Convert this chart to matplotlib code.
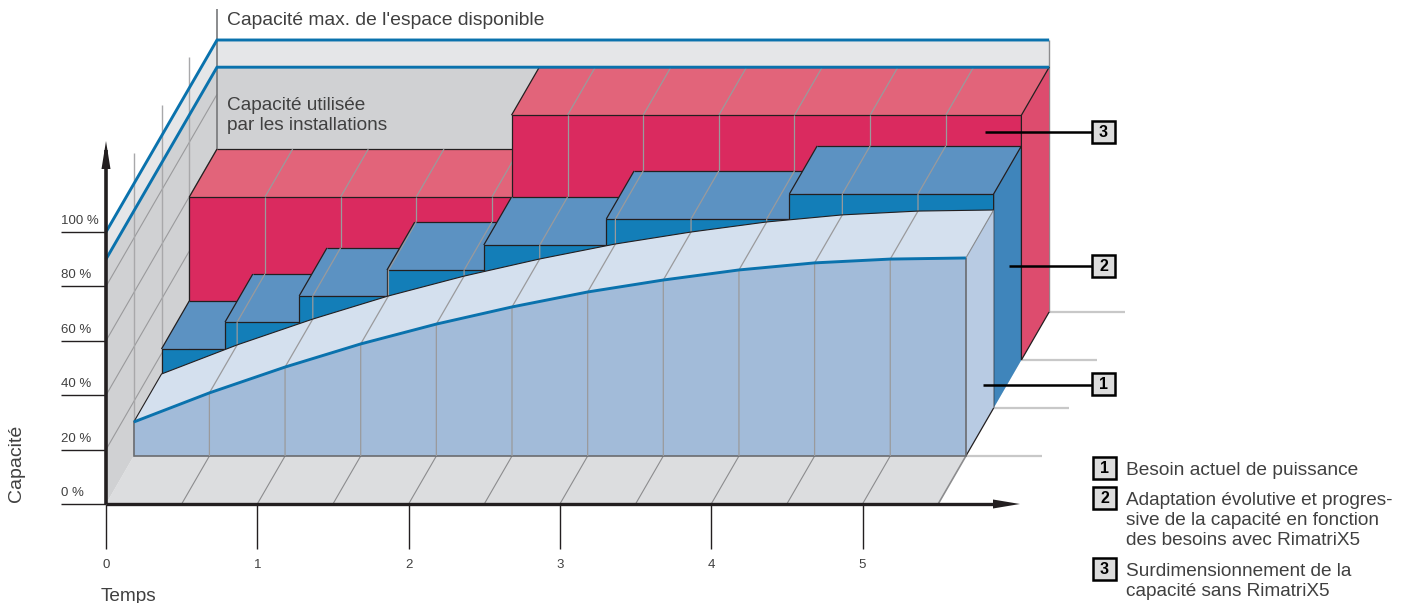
import matplotlib
matplotlib.use("Agg")
import matplotlib.pyplot as plt
import numpy as np

plt.rcParams['font.family'] = ['Liberation Sans', 'DejaVu Sans']

# time axis
time_ticks = [0, 1, 2, 3, 4, 5]
cap_ticks = [0, 20, 40, 60, 80, 100]
cap_labels = ['0 %', '20 %', '40 %', '60 %', '80 %', '100 %']
t_end = 5.5
cap_used = 90
cap_max = 100
cap_guides = 111.4

# besoin actuel (1)
need_t = [0, 0.5, 1, 1.5, 2, 2.5, 3, 3.5, 4, 4.5, 5, 5.5]
need_cap = [12.5, 23.2, 32.7, 41.2, 48.5, 54.8, 60.3, 64.7, 68.4, 71.0, 72.4, 72.8]

# capacite evolutive, steps (2)
step_t = [0, 0.42, 0.91, 1.49, 2.13, 2.94, 4.15, 5.5]
step_cap = [21.7, 31.6, 41.2, 50.7, 59.9, 69.5, 78.7]

# surdimensionnement, steps (3)
over_t = [0, 2.13, 5.5]
over_cap = [59.9, 90]

grid_t = [0.5, 1, 1.5, 2, 2.5, 3, 3.5, 4, 4.5, 5]

DARK = '#231f20'
GRID = '#9a9a9c'
BLUE = '#0a72ad'
TXT = '#404040'

# painter's order: every new mark goes on top of the previous ones
z = [1]


def next_z():
    z[0] += 1
    return z[0]


def proj(t, cap, d=0):
    # oblique view: d is the depth layer, 0 = front, 4 = back wall
    return 106 + 151.3 * t + 27.75 * d, 504 - 2.72 * cap - 48 * d


def poly(ax, pts, color):
    xy = np.array([proj(*p) for p in pts])
    ax.fill(xy[:, 0], xy[:, 1], facecolor=color, edgecolor='none', linewidth=0, zorder=next_z())


def line(ax, pts, color=GRID, lw=0.9):
    xy = np.array([proj(*p) for p in pts])
    ax.plot(xy[:, 0], xy[:, 1], color=color, lw=lw, solid_capstyle='butt',
            solid_joinstyle='miter', zorder=next_z())


def step_value(t, edges, vals):
    i = np.searchsorted(edges, t, side='right') - 1
    return vals[min(i, len(vals) - 1)]


fig = plt.figure(figsize=(14.07, 6.03), dpi=100)
ax = fig.add_axes([0, 0, 1, 1])
ax.set_xlim(0, 1407)
ax.set_ylim(603, 0)
ax.axis('off')

# walls and floor
poly(ax, [(0, 0, 0), (t_end, 0, 0), (t_end, 0, 4), (0, 0, 4)], '#dcdddf')
poly(ax, [(0, 0, 0), (0, 0, 4), (0, cap_used, 4), (0, cap_used, 0)], '#d0d1d3')
poly(ax, [(0, 0, 4), (t_end, 0, 4), (t_end, cap_used, 4), (0, cap_used, 4)], '#d0d1d3')
poly(ax, [(0, cap_used, 0), (0, cap_used, 4), (0, cap_max, 4), (0, cap_max, 0)], '#e5e6e8')
poly(ax, [(0, cap_used, 4), (t_end, cap_used, 4), (t_end, cap_max, 4), (0, cap_max, 4)], '#e5e6e8')

# lines on the left wall
for c in cap_ticks[1:5]:
    line(ax, [(0, c, 0), (0, c, 4)], GRID, 0.8)
for d in [1, 2, 3]:
    line(ax, [(0, 0, d), (0, cap_guides, d)], '#a8a8aa', 1.0)
line(ax, [(0, 0, 4), (0, cap_guides, 4)], '#77787a', 1.2)

# floor lines, extended past the right side
for t in grid_t:
    line(ax, [(t, 0, 0), (t, 0, 1)], '#8c8c8e', 0.8)
line(ax, [(t_end, 0, 0), (t_end, 0, 1)], '#8c8c8e', 1.2)
for d in [1, 2, 3, 4]:
    line(ax, [(t_end, 0, d), (t_end + 0.5, 0, d)], '#c8c8c8', 1.6)
line(ax, [(t_end, 0, 4), (t_end, cap_max, 4)], '#8c8c8e', 1.0)

# layer 3, red: each step is finished before the next one covers it
for i in range(len(over_cap)):
    t0, t1, c = over_t[i], over_t[i + 1], over_cap[i]
    poly(ax, [(t0, c, 3), (t0, c, 4), (t1, c, 4), (t1, c, 3)], '#e2647a')
    line(ax, [(t0, c, 4), (t1, c, 4)], DARK, 0.9)
    for t in grid_t:
        if t0 <= t < t1:
            line(ax, [(t, c, 3), (t, c, 4)], GRID, 0.9)
    poly(ax, [(t0, 0, 3), (t1, 0, 3), (t1, c, 3), (t0, c, 3)], '#da2a5f')
    line(ax, [(t0, 0, 3), (t0, c, 3), (t1, c, 3)], DARK, 0.9)
    line(ax, [(t0, c, 3), (t0, c, 4)], DARK, 0.9)
poly(ax, [(t_end, 0, 3), (t_end, 0, 4), (t_end, over_cap[1], 4), (t_end, over_cap[1], 3)], '#dd4c6e')
line(ax, [(t_end, 0, 3), (t_end, over_cap[1], 3), (t_end, over_cap[1], 4)], DARK, 0.9)
line(ax, [(t_end, 0, 3), (t_end, 0, 4)], DARK, 0.9)

# max / used capacity lines
for c in [cap_max, cap_used]:
    line(ax, [(0, c, 0), (0, c, 4), (t_end, c, 4)], BLUE, 2.1)

# verticals on the red front faces
for t in grid_t:
    s = step_value(t, step_t, step_cap)
    r = step_value(t, over_t, over_cap)
    line(ax, [(t, s, 3), (t, r, 3)], GRID, 0.9)

# layer 2, blue steps
for i in range(len(step_cap)):
    t0, t1, c = step_t[i], step_t[i + 1], step_cap[i]
    poly(ax, [(t0, c, 2), (t0, c, 3), (t1, c, 3), (t1, c, 2)], '#5c92c2')
    line(ax, [(t0, c, 3), (t1, c, 3)], DARK, 0.9)
    for t in grid_t:
        if t0 <= t < t1:
            line(ax, [(t, c, 2), (t, c, 3)], GRID, 0.9)
    poly(ax, [(t0, 0, 2), (t1, 0, 2), (t1, c, 2), (t0, c, 2)], '#137eb8')
    line(ax, [(t0, 0, 2), (t0, c, 2), (t1, c, 2)], DARK, 0.9)
    line(ax, [(t0, c, 2), (t0, c, 3)], DARK, 0.9)
poly(ax, [(t_end, 0, 2), (t_end, 0, 3), (t_end, step_cap[-1], 3), (t_end, step_cap[-1], 2)], '#3f85bb')
line(ax, [(t_end, 0, 2), (t_end, step_cap[-1], 2), (t_end, step_cap[-1], 3), (t_end, 0, 3)], DARK, 0.9)

# layer 1, light blue demand
front = [(t, c, 1) for t, c in zip(need_t, need_cap)]
back = [(t, c, 2) for t, c in zip(need_t, need_cap)]
poly(ax, front + back[::-1], '#d4e0ee')
poly(ax, [(0, 0, 1)] + front + [(t_end, 0, 1)], '#a2bbd9')
poly(ax, [(t_end, 0, 1), (t_end, 0, 2), (t_end, need_cap[-1], 2), (t_end, need_cap[-1], 1)], '#b8cbe3')
line(ax, [(t_end, 0, 1), (t_end, 0, 2)], DARK, 0.9)
line(ax, [(0, need_cap[0], 1), (0, 0, 1), (t_end, 0, 1), (t_end, need_cap[-1], 1)], '#6a6c70', 1.2)
line(ax, [(t_end, need_cap[-1], 1), (t_end, need_cap[-1], 2)], '#8c8c8e', 0.8)

# remaining ribbons: over the blue front faces and the demand shape
for t in grid_t:
    n = need_cap[need_t.index(t)]
    s = step_value(t, step_t, step_cap)
    line(ax, [(t, 0, 1), (t, n, 1), (t, n, 2), (t, s, 2)], GRID, 0.9)
line(ax, [(0, need_cap[0], 1), (0, need_cap[0], 2)] + back[1:], DARK, 0.8)
line(ax, front, BLUE, 2.1)

# axes
line(ax, [(0, 0, 0), (0, 130, 0)], DARK, 2.6)
line(ax, [(0, 0, 0), (5.9, 0, 0)], DARK, 2.4)
ax.fill([106, 101.5, 110.5], [141, 169, 169], color=DARK, lw=0, zorder=next_z())
ax.fill([1020, 993, 993], [504, 499.5, 508.5], color=DARK, lw=0, zorder=next_z())
for c, lab in zip(cap_ticks, cap_labels):
    x, y = proj(0, c)
    ax.plot([61, x], [y, y], color=DARK, lw=1.0, solid_capstyle='butt', zorder=next_z())
    ax.text(61, y - 8, lab, fontsize=9.5, color=TXT, ha='left', va='baseline', zorder=500)
for t in time_ticks:
    x, y = proj(t, 0)
    ax.plot([x, x], [y, y + 45], color=DARK, lw=1.0, solid_capstyle='butt', zorder=next_z())
    ax.text(x, 568, str(t), fontsize=9.5, color=TXT, ha='center', va='baseline', zorder=500)

ax.text(16, 502, 'Capacité', rotation=90, fontsize=14, color=TXT, ha='center', va='bottom', zorder=500)
ax.text(101, 601, 'Temps', fontsize=13.7, color=TXT, ha='left', va='baseline', zorder=500)
ax.text(227, 25, "Capacité max. de l'espace disponible", fontsize=13.9, color=TXT, va='baseline', zorder=500)
ax.text(227, 110, 'Capacité utilisée', fontsize=13.7, color=TXT, va='baseline', zorder=500)
ax.text(227, 130, 'par les installations', fontsize=13.7, color=TXT, va='baseline', zorder=500)


def num_box(num, x, yc):
    ax.add_patch(plt.Rectangle((x, yc - 11), 23, 22, facecolor='#dcdcdc', edgecolor='black', lw=1.8, zorder=501))
    ax.text(x + 11.5, yc + 0.5, str(num), fontsize=11.5, fontweight='bold', color='black',
            ha='center', va='center', zorder=502)


# callouts
for num, x0, yc in [(3, 985, 132), (2, 1009, 266), (1, 983, 385)]:
    ax.plot([x0, 1092], [yc, yc], color='black', lw=1.8, solid_capstyle='butt', zorder=500)
    num_box(num, 1092, yc - 1 if num == 1 else yc)

# legend
num_box(1, 1093, 468)
ax.text(1126, 475, 'Besoin actuel de puissance', fontsize=13.8, color=TXT, zorder=500)
num_box(2, 1093, 498)
for y, s in [(505, 'Adaptation évolutive et progres-'), (525, 'sive de la capacité en fonction'),
             (545, 'des besoins avec RimatriX5')]:
    ax.text(1126, y, s, fontsize=13.7, color=TXT, zorder=500)
num_box(3, 1093, 569)
for y, s in [(576, 'Surdimensionnement de la'), (596, 'capacité sans RimatriX5')]:
    ax.text(1126, y, s, fontsize=13.7, color=TXT, zorder=500)

fig.savefig('out.png', dpi=100)
